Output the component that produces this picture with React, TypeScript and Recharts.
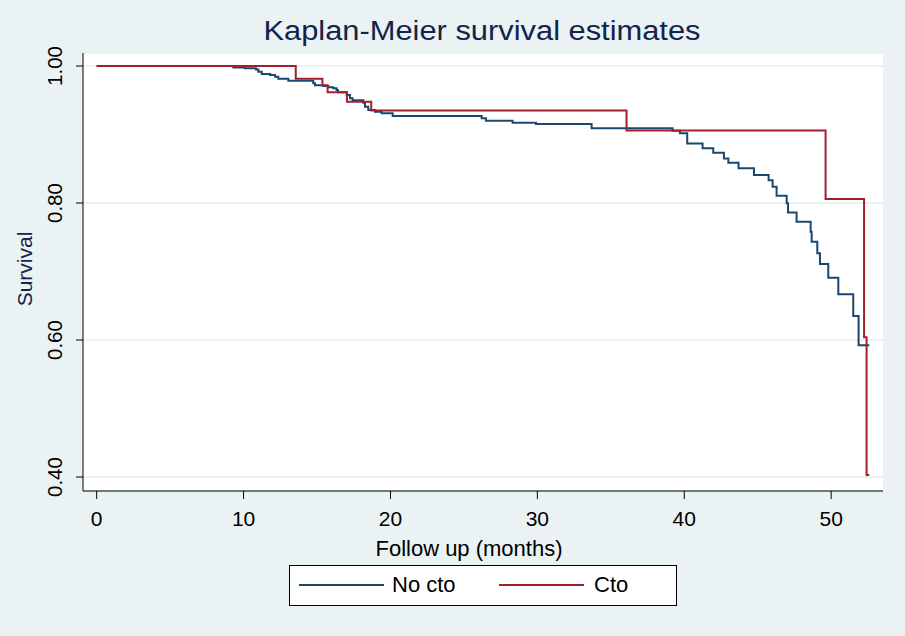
import React from "react";
import { LineChart, Line, XAxis, YAxis, CartesianGrid, Legend, Customized } from "recharts";

const noCtoTime = [0, 9.302, 10.098, 10.843, 11.005, 11.236, 11.8, 12.143, 12.364, 13.05, 14.742, 14.863, 15.427, 15.77, 16.102, 16.334, 16.425, 17.019, 17.241, 17.422, 18.147, 18.269, 18.49, 18.944, 19.397, 20.152, 26.207, 26.5, 28.313, 29.905, 33.693, 39.204, 39.708, 40.202, 41.249, 41.975, 42.7, 43.003, 43.697, 44.745, 45.743, 46.015, 46.287, 46.972, 47.063, 47.647, 48.604, 48.674, 49.057, 49.239, 49.803, 50.488, 51.506, 51.868, 52.594];
const noCtoSurv = [1, 0.998, 0.9966, 0.995, 0.9917, 0.9883, 0.9869, 0.9844, 0.9815, 0.9786, 0.9747, 0.9718, 0.9708, 0.9689, 0.9674, 0.965, 0.9616, 0.9577, 0.953, 0.95, 0.9465, 0.9406, 0.9358, 0.9333, 0.931, 0.927, 0.9236, 0.92, 0.9173, 0.9153, 0.909, 0.9056, 0.9017, 0.887, 0.8798, 0.8735, 0.865, 0.8589, 0.8506, 0.8409, 0.8333, 0.8236, 0.8107, 0.7996, 0.786, 0.7727, 0.758, 0.7435, 0.7265, 0.711, 0.691, 0.6667, 0.635, 0.5923, 0.5923];

const ctoTime = [0, 13.553, 15.367, 15.72, 17.039, 18.692, 36.071, 49.622, 52.241, 52.412, 52.594];
const ctoSurv = [1, 0.9815, 0.972, 0.9616, 0.948, 0.935, 0.906, 0.806, 0.604, 0.403, 0.403];

const xTicks = [0, 10, 20, 30, 40, 50];
const yTicks = [0.4, 0.6, 0.8, 1.0];
const seriesNames = ["No cto", "Cto"];
const titleText = "Kaplan-Meier survival estimates";
const xTitle = "Follow up (months)";
const yTitle = "Survival";

const BLUE = "#1A476F";
const RED = "#A31F2E";
const BG = "#EAF2F3";
const FONT = "'Liberation Sans', Arial, sans-serif";

const noCtoData = noCtoTime.map((t, i) => ({ t, s: noCtoSurv[i] }));
const ctoData = ctoTime.map((t, i) => ({ t, s: ctoSurv[i] }));

const YTick = (props: any) => {
  const { y, payload } = props;
  return (
    <text x={62} y={y} transform={`rotate(-90, 62, ${y})`} textAnchor="middle" fontSize={20.5} fontFamily={FONT} fill="#000">
      {Number(payload.value).toFixed(2)}
    </text>
  );
};

const XTick = (props: any) => {
  const { x, payload } = props;
  return (
    <text x={x} y={526} textAnchor="middle" fontSize={21} fontFamily={FONT} fill="#000">
      {payload.value}
    </text>
  );
};

const Title = () => (
  <g>
    <text x={482} y={40} textAnchor="middle" fontSize={27} textLength={437} lengthAdjust="spacingAndGlyphs" fontFamily={FONT} fill="#13234B">{titleText}</text>
    <text x={469} y={556} textAnchor="middle" fontSize={22} fontFamily={FONT} fill="#000">{xTitle}</text>
    <text x={32} y={269} transform="rotate(-90, 32, 269)" textAnchor="middle" fontSize={21} fontFamily={FONT} fill="#13234B">{yTitle}</text>
  </g>
);

const LegendBox = () => (
  <div style={{ width: 386, height: 39, border: "1px solid #000", background: "#fff", position: "relative", fontFamily: FONT, fontSize: 22, boxSizing: "content-box" }}>
    <div style={{ position: "absolute", left: 9, top: 18, width: 85, height: 2, background: BLUE }} />
    <div style={{ position: "absolute", left: 102, top: 6, lineHeight: "25px" }}>{seriesNames[0]}</div>
    <div style={{ position: "absolute", left: 209, top: 18, width: 85, height: 2, background: RED }} />
    <div style={{ position: "absolute", left: 304, top: 6, lineHeight: "25px" }}>{seriesNames[1]}</div>
  </div>
);

export default function App() {
  return (
    <div style={{ position: "absolute", left: 0, top: 0, width: 905, height: 636, background: BG }}>
      <LineChart width={905} height={636} margin={{ top: 53, right: 22, left: 0, bottom: 0 }}>
        <CartesianGrid vertical={false} fill="#fff" stroke={BG} strokeWidth={2} />
        <XAxis
          type="number"
          dataKey="t"
          domain={[-0.93, 53.53]}
          ticks={xTicks}
          allowDataOverflow
          height={145}
          tickSize={8}
          tick={<XTick />}
          axisLine={{ stroke: "#000" }}
          tickLine={{ stroke: "#000" }}
        />
        <YAxis
          type="number"
          domain={[0.3796, 1.019]}
          ticks={yTicks}
          allowDataOverflow
          width={83}
          tickSize={7}
          tick={<YTick />}
          axisLine={{ stroke: "#000" }}
          tickLine={{ stroke: "#000" }}
        />
        <Line data={noCtoData} dataKey="s" name={seriesNames[0]} type="stepAfter" stroke={BLUE} strokeWidth={2} dot={false} isAnimationActive={false} />
        <Line data={ctoData} dataKey="s" name={seriesNames[1]} type="stepAfter" stroke={RED} strokeWidth={2} dot={false} isAnimationActive={false} />
        <Legend layout="horizontal" verticalAlign="middle" align="center" wrapperStyle={{ position: "absolute", left: 289, top: 565, width: 388, height: 41 }} content={() => <LegendBox />} />
        <Customized component={<Title />} />
      </LineChart>
    </div>
  );
}
